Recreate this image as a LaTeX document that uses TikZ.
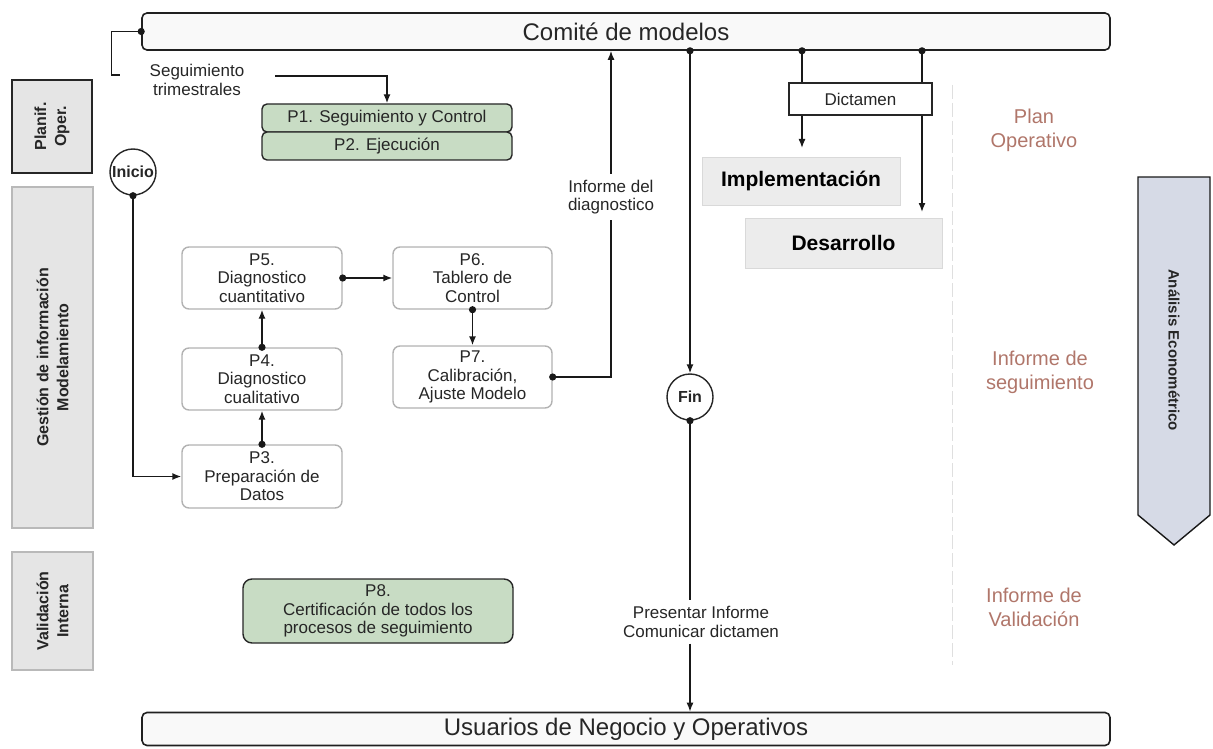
\documentclass[tikz,border=0pt]{standalone}
\usepackage{fontspec}
\setmainfont{Liberation Sans}
\usetikzlibrary{arrows.meta}

\definecolor{verdeclaro}{RGB}{200,220,196}
\definecolor{azulgris}{RGB}{214,218,230}
\definecolor{cafe}{RGB}{176,118,106}

\begin{document}
\begin{tikzpicture}[x = 1pt, y = -1pt, > = {Latex[length = 9pt, width = 7pt]},
	linea/.style = {draw = gray!20!black, line width = 1.4pt},
	texto/.style = {font = \fontsize{17}{18.5}\selectfont, align = center, text = black!85},
	proceso/.style = {texto, draw = gray!60, line width = 1.4pt, rounded corners = 7pt, fill = white, minimum width = 160pt, minimum height = 62pt, inner sep = 2pt},
	verde/.style = {texto, draw = gray!30!black, line width = 1.4pt, rounded corners = 5pt, fill = verdeclaro, minimum width = 250pt, minimum height = 28pt, inner sep = 1pt},
	carril/.style = {draw = gray!55, line width = 1.2pt, fill = gray!20, rotate = 90, font = \bfseries\fontsize{16}{20}\selectfont, align = center, text = black!85},
	circulo/.style = {circle, draw = gray!30!black, line width = 1.4pt, fill = white, minimum size = 46pt, inner sep = 0pt, font = \bfseries\fontsize{16}{18}\selectfont, text = black!85},
	nota/.style = {font = \fontsize{20}{24}\selectfont, align = center, text = cafe},
	barra/.style = {draw = gray!25!black, line width = 1.6pt, rounded corners = 5pt, fill = gray!5, minimum width = 968pt, font = \fontsize{24}{26}\selectfont, text = black!85},
	bloque/.style = {draw = gray!30, fill = gray!15, font = \bfseries\fontsize{21}{24}\selectfont}]

	\useasboundingbox (0, 0) rectangle (1213, 749);

	% Lanes on the left

	\node (planif) [carril, draw = gray!30!black, minimum width = 93pt, minimum height = 80pt] at (52, 126.5) {Planif.\\Oper.};
	\node (gestion) [carril, minimum width = 341pt, minimum height = 81pt] at (52.5, 357.5) {Gestión de información\\Modelamiento};
	\node (valid) [carril, minimum width = 118pt, minimum height = 81pt] at (52.5, 611) {Validación\\Interna};

	% Faint separator and econometric arrow

	\draw [gray!25, line width = 1pt, dash pattern = on 14pt off 4pt] (952, 85) -- (952, 665);
	\draw [linea, fill = azulgris] (1138, 177) -- (1210, 177) -- (1210, 515) -- (1174, 545) -- (1138, 515) -- cycle;
	\node (analisis) [rotate = -90, font = \bfseries\fontsize{15}{17}\selectfont, text = black!85] at (1174, 350) {Análisis Econométrico};

	% Top and bottom bars

	\node (comite) [barra, minimum height = 37pt] at (626, 31.5) {Comité de modelos};
	\node (usuarios) [barra, minimum height = 33pt] at (626, 729) {Usuarios de Negocio y Operativos};

	% Processes

	\node (p1) [verde] at (387, 118) {P1. Seguimiento y Control};
	\node (p2) [verde] at (387, 146) {P2. Ejecución};
	\node (p3) [proceso, minimum height = 63pt] at (262, 476.5) {P3.\\Preparación de\\Datos};
	\node (p4) [proceso] at (262, 379) {P4.\\Diagnostico\\cualitativo};
	\node (p5) [proceso] at (262, 278) {P5.\\Diagnostico\\cuantitativo};
	\node (p6) [proceso, minimum width = 159pt] at (472.5, 278) {P6.\\Tablero de\\Control};
	\node (p7) [proceso, minimum width = 159pt] at (472.5, 377) {P7.\\Calibración,\\Ajuste Modelo};
	\node (p8) [verde, minimum width = 270pt, minimum height = 64pt, rounded corners = 9pt] at (378, 611) {P8.\\Certificación de todos los\\procesos de seguimiento};

	\node (inicio) [circulo] at (133, 172) {Inicio};
	\node (fin) [circulo] at (690, 397) {Fin};

	\node (impl) [bloque, minimum width = 198pt, minimum height = 48pt] at (801, 181) {Implementación};
	\node (desa) [bloque, minimum width = 197pt, minimum height = 50pt] at (843.5, 243) {Desarrollo};

	% Labels on the connectors

	\node (seg) [texto] at (197, 80) {Seguimiento\\trimestrales};
	\node (infdiag) [texto, inner ysep = 6pt] at (611, 197) {Informe del\\diagnostico};
	\node (presentar) [texto, inner ysep = 6pt] at (701, 622) {Presentar Informe\\Comunicar dictamen};

	% Reports on the right

	\node (plan) [nota] at (1034, 130) {Plan\\Operativo};
	\node (infseg) [nota] at (1040, 372) {Informe de\\seguimiento};
	\node (infval) [nota] at (1034, 607) {Informe de\\Validación};

	% Connectors

	\coordinate (s1) at (120, 75);
	\coordinate (s2) at (275, 76);
	\coordinate (d1) at (802, 148);
	\coordinate (d2) at (922, 212);

	\draw [linea] (comite.west) -- ++(-30, 0) |- (s1);
	\draw [linea, ->] (s2) -| (p1.north);
	\draw [linea, ->] (inicio.south) |- (p3.west);
	\draw [linea, ->] (p3.north) -- (p4.south);
	\draw [linea, ->] (p4.north) -- (p5.south);
	\draw [linea, ->] (p5.east) -- (p6.west);
	\draw [linea, ->] (p6.south) -- (p7.north);
	\draw [linea] (p7.east) -| (infdiag.south);
	\draw [linea, ->] (infdiag.north) -- (infdiag.north |- comite.south);
	\draw [linea, ->] (comite.south -| fin) -- (fin.north);
	\draw [linea] (fin.south) -- (fin.south |- presentar.north);
	\draw [linea, ->] (presentar.south -| fin) -- (usuarios.north -| fin);
	\draw [linea, ->] (comite.south -| d1) -- (d1);
	\draw [linea, ->] (comite.south -| d2) -- (d2);

	\node (dictamen) [texto, draw = gray!30!black, line width = 1.4pt, fill = white, minimum width = 143pt, minimum height = 32pt] at (860.5, 99) {Dictamen};

	% Dots where connectors leave

	\foreach \p in {comite.west, inicio.south, p3.north, p4.north, p5.east, p6.south, p7.east, fin.south, comite.south -| fin, comite.south -| d1, comite.south -| d2}
	{
		\fill [gray!20!black] (\p) circle (3.6pt);
	}

\end{tikzpicture}
\end{document}
